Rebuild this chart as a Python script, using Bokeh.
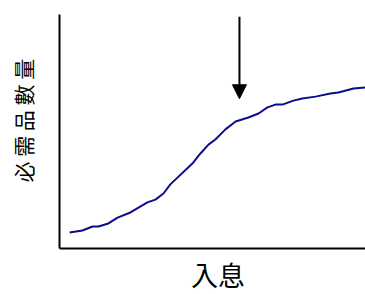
from bokeh.plotting import figure
from bokeh.models import Range1d, FixedTicker, Arrow, NormalHead, ColumnDataSource, Label, Span
from bokeh.embed import file_html
from bokeh.resources import INLINE

# Data (arbitrary units)
income = [3.4, 7.7, 11.1, 13.1, 16.4, 19.5, 23.8, 29.5, 32.2, 34.9, 37.2, 44.6,
          47.3, 50.0, 52.3, 55.7, 59.1, 63.4, 66.8, 69.8, 72.5, 74.8, 78.5, 81.5,
          85.9, 90.9, 93.6, 98.7, 102.7]
necessities = [6.8, 7.7, 9.4, 9.4, 10.7, 13.2, 15.4, 19.7, 20.9, 23.5, 27.4, 36.3,
               40.6, 44.4, 46.6, 50.9, 54.3, 56.0, 57.7, 60.3, 61.5, 61.5, 63.2, 64.1,
               64.9, 66.2, 66.7, 68.4, 68.8]
arrow_x = [60.4]
arrow_y_start = [99.0]
arrow_y_end = [64.0]

x_label = "入息"
# leading ideographic spaces lift the title so it is centred on the drawn axis
y_label = "\u3000\u3000\u3000 必 需 品 數 量"

p = figure(width=365, height=294, output_backend="svg", toolbar_location=None,
           x_range=Range1d(0, 102.7), y_range=Range1d(-19.66, 100),
           min_border_left=59, min_border_right=0, min_border_top=14, min_border_bottom=0)
p.outline_line_color = None
p.grid.visible = False
p.background_fill_color = "white"
p.border_fill_color = "white"
p.xaxis.visible = False

ax = p.yaxis[0]
ax.ticker = FixedTicker(ticks=[])
ax.bounds = (0, 100)
ax.major_label_text_font_size = "0px"
ax.major_tick_in = 0
ax.major_tick_out = 0
ax.minor_tick_in = 0
ax.minor_tick_out = 0
ax.major_label_standoff = 0
ax.axis_line_width = 2
ax.axis_line_color = "black"
ax.axis_label = y_label
ax.axis_label_text_font = "Noto Sans CJK TC"
ax.axis_label_text_font_style = "normal"
ax.axis_label_text_font_size = "21px"
ax.axis_label_text_color = "black"
ax.axis_label_standoff = 22

# horizontal (income) axis line at zero
p.add_layout(Span(location=0, dimension="width", line_color="black", line_width=2))

src = ColumnDataSource(dict(x=income, y=necessities))
p.line("x", "y", source=src, line_color="#0c0c8c", line_width=2)

arrow_src = ColumnDataSource(dict(x0=arrow_x, y0=arrow_y_start, x1=arrow_x, y1=arrow_y_end))
p.add_layout(Arrow(source=arrow_src, x_start="x0", y_start="y0", x_end="x1", y_end="y1",
                   line_color="black", line_width=2,
                   end=NormalHead(size=14, fill_color="black", line_color="black", line_width=1)))

p.add_layout(Label(x=53.2, y=-11.3, text=x_label, text_align="center", text_baseline="middle",
                   text_font="Noto Sans CJK TC", text_font_size="27px", text_color="black"))

open("out.html", "w").write(file_html(p, INLINE))
